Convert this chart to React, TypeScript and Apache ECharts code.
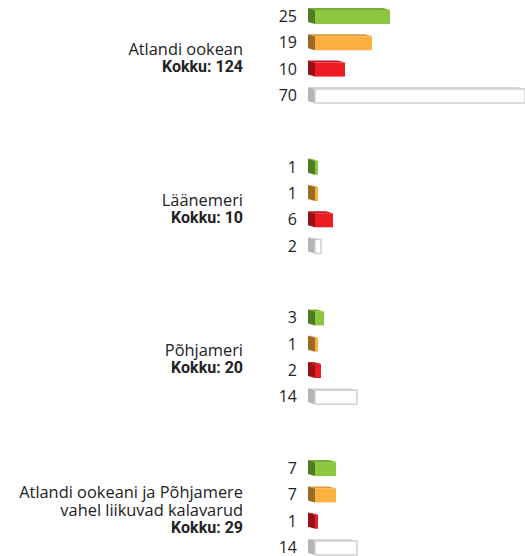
import React, { useEffect, useRef } from "react";
import * as echarts from "echarts";

const groupNames = [
  "Atlandi ookean",
  "Läänemeri",
  "Põhjameri",
  "Atlandi ookeani ja Põhjamere\nvahel liikuvad kalavarud",
];
const groupTotals = [124, 10, 20, 29];
const greenValues = [25, 1, 3, 7];
const orangeValues = [19, 1, 1, 7];
const redValues = [10, 6, 2, 1];
const whiteValues = [70, 2, 14, 14];

const GROUP_STRIDE = 5.73;
const FONT = "'Open Sans', 'DejaVu Sans', sans-serif";
const BOLD_FONT = "Roboto, 'Open Sans', sans-serif";

const palettes = [
  { front: "#8dc63f", top: "#78ad35", side: "#507c22", stroke: "none" },
  { front: "#fbb040", top: "#e09a35", side: "#9b6a24", stroke: "none" },
  { front: "#ed1c24", top: "#c8161d", side: "#961015", stroke: "none" },
  { front: "#ffffff", top: "#d8d8d8", side: "#b4b4b4", stroke: "#cfcfcf" },
];

export default function App() {
  const ref = useRef<HTMLDivElement>(null);
  useEffect(() => {
    if (!ref.current) return;
    const chart = echarts.init(ref.current, null, { renderer: "svg" });
    const seriesLists = [greenValues, orangeValues, redValues, whiteValues];
    const barData: number[][] = [];
    groupNames.forEach((_, g) => {
      seriesLists.forEach((list, i) => {
        barData.push([list[g], g * GROUP_STRIDE + i, i]);
      });
    });
    const groupData = groupNames.map((_, g) => [0, g * GROUP_STRIDE + 1.5, g]);

    chart.setOption({
      animation: false,
      grid: { left: 315, right: 0, top: 16, bottom: 9 },
      xAxis: { type: "value", min: 0, max: 70, show: false },
      yAxis: { type: "value", min: 0, max: 3 * GROUP_STRIDE + 3, inverse: true, show: false },
      series: [
        {
          type: "custom",
          clip: false,
          data: barData,
          renderItem: (params: any, api: any) => {
            const v = api.value(0);
            const pos = api.value(1);
            const ci = api.value(2);
            const p0 = api.coord([0, pos]);
            const p1 = api.coord([v, pos]);
            const x0 = p0[0];
            const x1 = p1[0];
            const y = p0[1];
            const pal = palettes[ci];
            const dx = 7;
            const dy = 2;
            return {
              type: "group",
              children: [
                {
                  type: "polygon",
                  shape: { points: [[x0, y - 6], [x1, y - 6], [x1 - dx, y - 6 - dy], [x0 - dx, y - 6 - dy]] },
                  style: { fill: pal.top },
                },
                {
                  type: "polygon",
                  shape: { points: [[x0, y - 6], [x0, y + 8], [x0 - dx, y + 8 - dy], [x0 - dx, y - 6 - dy]] },
                  style: { fill: pal.side },
                },
                {
                  type: "rect",
                  shape: { x: x0, y: y - 6, width: x1 - x0, height: 14 },
                  style: { fill: pal.front, stroke: pal.stroke, lineWidth: pal.stroke === "none" ? 0 : 1.5 },
                },
                {
                  type: "text",
                  style: {
                    x: x0 - 18,
                    y: y,
                    text: String(v),
                    align: "right",
                    verticalAlign: "middle",
                    fontFamily: FONT,
                    fontSize: 16,
                    lineHeight: 14,
                    fill: "#222",
                  },
                },
              ],
            };
          },
        },
        {
          type: "custom",
          clip: false,
          data: groupData,
          renderItem: (params: any, api: any) => {
            const pos = api.value(1);
            const g = api.value(2);
            const p = api.coord([0, pos]);
            const lines = groupNames[g].split("\n");
            const all = [...lines, `Kokku: ${groupTotals[g]}`];
            const lh = 18;
            const startY = p[1] + 2 - ((all.length - 1) * lh) / 2;
            return {
              type: "group",
              children: all.map((t, k) => {
                const isBold = k === all.length - 1;
                return {
                  type: "text",
                  style: {
                    x: 243,
                    y: startY + k * lh,
                    text: t,
                    align: "right",
                    verticalAlign: "middle",
                    fontFamily: isBold ? BOLD_FONT : FONT,
                    fontSize: isBold ? 16 : 16.4,
                    fontWeight: isBold ? "bold" : "normal",
                    lineHeight: 15,
                    fill: "#222",
                  },
                };
              }),
            };
          },
        },
      ],
    });
    return () => chart.dispose();
  }, []);
  return (
    <div
      ref={ref}
      style={{ position: "fixed", left: 0, top: 0, width: 525, height: 556, background: "#fff" }}
    />
  );
}
